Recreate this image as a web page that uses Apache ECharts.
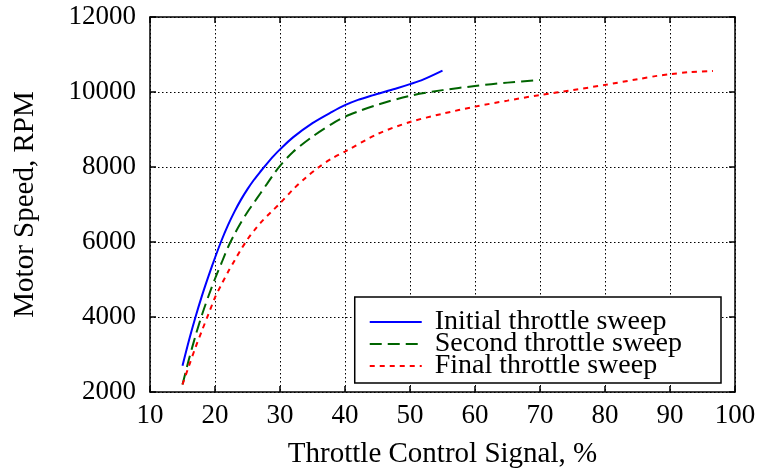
<!DOCTYPE html>
<html><head><meta charset="utf-8">
<script src="https://cdn.jsdelivr.net/npm/echarts@6/dist/echarts.min.js"></script>
<style>html,body{margin:0;padding:0;background:#fff}#c{width:765px;height:471px}</style>
</head><body><div id="c"></div>
<script>
const seriesNames = ['Initial throttle sweep', 'Second throttle sweep', 'Final throttle sweep'];
const initialSweep = [[15,2700],[16,3380],[17,4000],[18,4570],[19,5090],[20,5580],[21,6040],[22,6450],[23,6810],[24,7130],[25,7410],[26,7660],[27,7880],[28,8090],[29,8290],[30,8470],[32,8790],[35,9170],[38,9470],[40,9650],[42,9790],[44,9900],[46,10000],[48,10100],[50,10210],[52,10330],[55,10570]];
const secondSweep = [[15,2200],[16,2880],[17,3500],[18,4060],[19,4560],[20,5020],[21,5440],[22,5860],[23,6210],[24,6520],[25,6800],[26,7050],[27,7300],[28,7550],[29,7800],[30,8030],[32,8400],[35,8810],[38,9150],[40,9340],[42,9480],[45,9660],[50,9900],[55,10050],[60,10160],[65,10250],[70,10320]];
const finalSweep = [[15,2200],[16,2700],[17,3190],[18,3640],[19,4080],[20,4520],[21,4870],[22,5200],[23,5500],[24,5800],[25,6070],[26,6300],[27,6510],[28,6690],[29,6860],[30,7030],[32,7400],[34,7720],[36,8000],[38,8230],[40,8410],[45,8880],[50,9200],[55,9420],[60,9610],[65,9770],[70,9920],[75,10050],[80,10190],[85,10340],[88,10430],[90,10475],[93,10530],[96.6,10560]];
const xTicks = [10,20,30,40,50,60,70,80,90,100];
const yTicks = [2000,4000,6000,8000,10000,12000];

const font = 'Liberation Serif';
const chart = echarts.init(document.getElementById('c'), null, {renderer:'canvas'});
const gridDot = {show:true, lineStyle:{color:'#000', type:[1.5,2.5], width:1}};
const mkX = (pos, labels) => ({
  type:'value', position:pos, min:xTicks[0], max:xTicks[xTicks.length-1], interval:10,
  axisLine:{show:true, onZero:false, lineStyle:{color:'#000', width:1.5}},
  axisTick:{show:true, inside:true, length:6, lineStyle:{color:'#000', width:1.5}},
  axisLabel:{show:labels, color:'#000', fontFamily:font, fontSize:27, margin:10},
  splitLine: labels ? gridDot : {show:false},
  name: labels ? 'Throttle Control Signal, %' : '', nameLocation:'middle', nameGap:48,
  nameTextStyle:{color:'#000', fontFamily:font, fontSize:29}
});
const mkY = (pos, labels) => ({
  type:'value', position:pos, min:yTicks[0], max:yTicks[yTicks.length-1], interval:2000,
  axisLine:{show:true, onZero:false, lineStyle:{color:'#000', width:1.5}},
  axisTick:{show:true, inside:true, length:6, lineStyle:{color:'#000', width:1.5}},
  axisLabel:{show:labels, color:'#000', fontFamily:font, fontSize:27, margin:14, formatter:v => String(v)},
  splitLine: labels ? gridDot : {show:false},
  name: labels ? 'Motor Speed, RPM' : '', nameLocation:'middle', nameGap:110,
  nameTextStyle:{color:'#000', fontFamily:font, fontSize:29}
});
chart.setOption({
  animation:false,
  backgroundColor:'#fff',
  grid:{left:150, right:30, top:17, bottom:79, outerBoundsMode:'none', containLabel:false},
  xAxis:[mkX('bottom', true), mkX('top', false)],
  yAxis:[mkY('left', true), mkY('right', false)],
  legend:{
    right:44, bottom:88, orient:'vertical', itemGap:-6, itemWidth:52, itemHeight:14,
    padding:[11,39,3,14], backgroundColor:'#fff', borderColor:'#000', borderWidth:1.5, borderRadius:0,
    itemStyle:{opacity:0},
    textStyle:{color:'#000', fontFamily:font, fontSize:28, lineHeight:23, padding:[0,0,0,8]},
    data: seriesNames
  },
  series:[
    {name:seriesNames[0], type:'line', data:initialSweep, smooth:0.3, showSymbol:false, symbol:'none',
     lineStyle:{color:'#0000ff', width:2}, itemStyle:{color:'#0000ff'}},
    {name:seriesNames[1], type:'line', data:secondSweep, smooth:0.3, showSymbol:false, symbol:'none',
     lineStyle:{color:'#006400', width:2, type:[12,6]}, itemStyle:{color:'#006400'}},
    {name:seriesNames[2], type:'line', data:finalSweep, smooth:0.3, showSymbol:false, symbol:'none',
     lineStyle:{color:'#ff0000', width:2, type:[5,5]}, itemStyle:{color:'#ff0000'}}
  ]
});
</script></body></html>
